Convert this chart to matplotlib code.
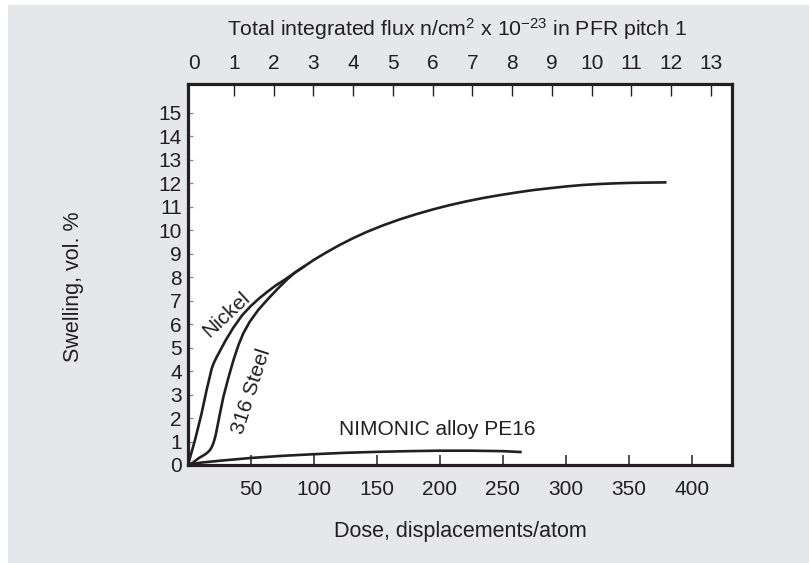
import matplotlib
matplotlib.use("Agg")
import matplotlib.pyplot as plt
from matplotlib.patches import Rectangle

plt.rcParams["font.family"] = ["Liberation Sans", "DejaVu Sans"]
plt.rcParams["mathtext.fontset"] = "custom"
plt.rcParams["mathtext.rm"] = "Liberation Sans"
plt.rcParams["mathtext.it"] = "Liberation Sans:italic"

INK = "#231f20"
BG = "#e6e7e8"
W, H = 809, 563

# swelling curves, dose in dpa, swelling in vol. %
nickel_dose = [0, 5.6, 10.8, 14.8, 18.8, 20.5, 22.8, 26, 30, 36, 43, 50, 57, 64, 70]
nickel_swell = [0, 1.07, 2.2, 3.2, 4.1, 4.35, 4.6, 4.92, 5.32, 5.85, 6.38, 6.78,
                7.12, 7.42, 7.66]

steel_dose = [0, 4, 8.2, 11, 13.5, 15.5, 17.5, 19, 20.1, 21, 22, 23.3, 25.4, 28,
              32, 36, 40, 44, 49, 56, 64, 72, 79]
steel_swell = [0, 0.1, 0.28, 0.37, 0.45, 0.53, 0.64, 0.78, 0.92, 1.08, 1.28, 1.63,
               2.2, 2.88, 3.7, 4.45, 5.1, 5.62, 6.1, 6.62, 7.1, 7.55, 7.92]

# both curves join here and run on together
common_dose = [77, 85, 92, 100, 110, 120, 131, 142, 155, 168, 181, 194, 207, 221,
               234, 248, 261, 274, 287, 301, 314, 327, 340, 353, 366, 380]
common_swell = [7.9, 8.2, 8.45, 8.74, 9.06, 9.36, 9.66, 9.93, 10.21, 10.46, 10.68,
                10.88, 11.06, 11.23, 11.37, 11.5, 11.61, 11.71, 11.79, 11.87, 11.93,
                11.97, 12.0, 12.02, 12.03, 12.04]

pe16_dose = [0, 10, 25, 50, 75, 100, 125, 150, 175, 200, 225, 250, 265]
pe16_swell = [0, 0.1, 0.18, 0.3, 0.39, 0.46, 0.52, 0.56, 0.59, 0.61, 0.61, 0.59, 0.55]

dose_ticks = [50, 100, 150, 200, 250, 300, 350, 400]
swell_ticks = list(range(16))
flux_ticks = list(range(14))

fig = plt.figure(figsize=(W / 100, H / 100), dpi=100, facecolor="white")
fig.patches.append(Rectangle((8 / W, 0), 1, 1 - 5 / H, transform=fig.transFigure,
                             facecolor=BG, edgecolor="none", zorder=-10))

ax = fig.add_axes([188 / W, 1 - 465 / H, (732 - 188) / W, (465 - 84) / H])
ax.set_facecolor("white")

lw = 1.9
ax.plot(nickel_dose + common_dose, nickel_swell + common_swell, color=INK, lw=lw,
        solid_capstyle="butt", solid_joinstyle="round")
ax.plot(steel_dose + common_dose[1:3], steel_swell + common_swell[1:3], color=INK,
        lw=lw, solid_joinstyle="round")
ax.plot(pe16_dose, pe16_swell, color=INK, lw=lw, solid_capstyle="butt",
        solid_joinstyle="round")

ax.set_xlim(0, 432)
ax.set_ylim(0, 16.23)

for s in ax.spines.values():
    s.set_linewidth(2.3)
    s.set_color(INK)

ax.set_xticks(dose_ticks)
ax.set_yticks(swell_ticks)
ax.tick_params(axis="x", direction="in", length=7.5, width=1.1, color=INK,
               labelsize=15, labelcolor=INK, pad=11)
ax.tick_params(axis="y", direction="in", length=3.5, width=0.9, color="#8a8a8a",
               labelsize=15, labelcolor=INK, pad=4.5)

# flux scale along the top
ax2 = ax.twiny()
ax2.set_xlim(-0.151, 13.53)
ax2.set_xticks(flux_ticks)
ax2.tick_params(axis="x", direction="in", length=8.5, width=1.0, color=INK,
                labelsize=15, labelcolor=INK, pad=8)
ax2.xaxis.get_major_ticks()[0].tick2line.set_visible(False)
for s in ax2.spines.values():
    s.set_visible(False)

ax.text(30.7, 6.39, "Nickel", rotation=43, fontsize=15, color=INK,
        ha="center", va="center", rotation_mode="anchor")
ax.text(50.5, 3.12, "316 Steel", rotation=72, fontsize=15, color=INK,
        ha="center", va="center", rotation_mode="anchor")
ax.text(198, 1.53, "NIMONIC alloy PE16", fontsize=15, color=INK,
        ha="center", va="center")

fig.text(457 / W, 1 - 36 / H,
         r"Total integrated flux n/cm$^{2}$ x 10$^{-23}$ in PFR pitch 1",
         fontsize=15.3, color=INK, ha="center", va="baseline")
fig.text(460 / W, 1 - 537 / H, "Dose, displacements/atom", fontsize=15.5, color=INK,
         ha="center", va="baseline")
fig.text(73 / W, 1 - 287 / H, "Swelling, vol. %", fontsize=15.5, color=INK,
         ha="center", va="center", rotation=90)

fig.savefig("out.png", dpi=100, facecolor="white")
